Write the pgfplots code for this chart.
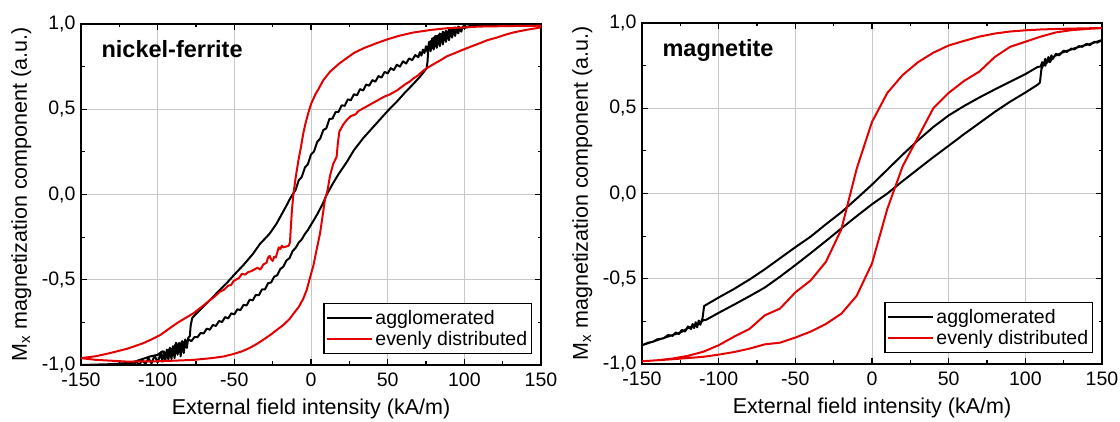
\documentclass[border=0pt]{standalone}
\usepackage{fontspec}
\setmainfont{Liberation Sans}
\usepackage{pgfplots}
\pgfplotsset{compat=1.18}
\definecolor{myred}{RGB}{228,0,0}

\pgfplotsset{
  hyst/.style={
    width=460pt, height=341pt, scale only axis,
    xmin=-150, xmax=150, ymin=-1, ymax=1,
    xtick={-150,-100,...,150},
    xticklabels={-150,-100,-50,0,50,100,150},
    ytick={-1,-0.5,0,0.5,1},
    yticklabels={{-1,0},{-0,5},{0,0},{0,5},{1,0}},
    minor x tick num=1, minor y tick num=1,
    grid=major, grid style={line width=0.8pt, draw=black!22},
    axis line style={line width=1.2pt},
    major tick length=6pt, minor tick length=3.5pt,
    every tick/.style={black, line width=1.1pt},
    tick label style={font=\fontsize{19.5}{23}\selectfont},
    label style={font=\fontsize{21.5}{25}\selectfont},
    xlabel={External field intensity (kA/m)},
    ylabel={M\textsubscript{x} magnetization component (a.u.)},
    xlabel style={at={(axis description cs:0.5,-0.1466)}, anchor=base},
    ylabel style={at={(axis description cs:-0.1174,0.5)}, anchor=base},
    xticklabel style={yshift=-4pt},
    yticklabel style={xshift=-2pt},
    legend style={at={(0.981,0.031)}, anchor=south east, draw=black,
      line width=1.2pt, fill=white, font=\fontsize{19.5}{23}\selectfont,
      inner xsep=2pt, inner ysep=4.5pt,
      nodes={inner xsep=2.5pt, inner ysep=2.5pt}},
    legend cell align=left,
    legend image code/.code={\draw[#1] (0pt,0pt) -- (45pt,0pt);},
    every axis plot/.append style={line width=2pt, line join=round},
  }
}

\begin{document}
\begin{tikzpicture}
\useasboundingbox (0,0) rectangle (1120pt,422pt);

% nickel-ferrite
\begin{axis}[hyst, at={(81pt,57pt)}, anchor=south west]
\addplot[black] coordinates {
(150,0.995) (130,0.995) (115,0.993) (106,0.99) (102,0.985)
(100,0.975) (99,0.985) (98,0.955) (97,0.98) (96,0.945) (95,0.975) (94,0.93) (93,0.97)
(92,0.92) (91,0.965) (90,0.905) (89,0.955) (88,0.895) (87,0.95) (86,0.88) (85,0.94)
(84,0.87) (83,0.935) (82,0.86) (81,0.93) (80,0.85) (79,0.915) (78,0.84) (77,0.895)
(76,0.835) (75,0.87) (74,0.83) (73,0.85) (72,0.815) (71,0.835) (70,0.805)
(68,0.818) (66,0.788) (64,0.798) (62,0.768) (60,0.781) (58,0.75) (56,0.761) (54,0.73)
(52,0.741) (50,0.71) (48,0.719) (46,0.686) (44,0.695) (42,0.662) (40,0.671) (38,0.638)
(36,0.645) (34,0.61) (32,0.618) (30,0.582) (28,0.588) (26,0.553) (24,0.558) (22,0.52)
(20,0.523) (18,0.485) (16,0.483) (14,0.445) (12,0.443) (10,0.388) (8,0.378) (6,0.328)
(4,0.308) (2,0.253) (0,0.235) (-2,0.178) (-4,0.158) (-6,0.103) (-8,0.083) (-10,0.028) (-12,0.0)
(-14,-0.03) (-16,-0.065) (-22.4,-0.17) (-27,-0.23) (-33.3,-0.29) (-38,-0.35) (-44,-0.413)
(-50,-0.47) (-55,-0.52) (-60,-0.565) (-66,-0.62) (-71,-0.665) (-75.7,-0.707) (-77.5,-0.725)
(-78.5,-0.77) (-79,-0.83)
(-80,-0.84) (-81,-0.9) (-82,-0.85) (-83,-0.93) (-84,-0.86) (-85,-0.95) (-86,-0.87)
(-87,-0.94) (-88,-0.88) (-89,-0.96) (-90,-0.89) (-91,-0.965) (-92,-0.9) (-93,-0.97)
(-94,-0.91) (-95,-0.975) (-96,-0.92) (-97,-0.98) (-98,-0.93) (-100,-0.985) (-102,-0.945)
(-104,-0.99) (-106,-0.96) (-108,-0.995) (-110,-0.97) (-112,-1.0) (-114,-0.98) (-116,-1.0)
(-118,-0.985) (-120,-1.0) (-124,-0.99) (-128,-1.0) (-150,-1.0)
(-130,-0.995) (-122,-0.99) (-115,-0.98) (-110,-0.965) (-105,-0.95) (-100,-0.94)
(-97,-0.92) (-94,-0.935) (-92,-0.9) (-90,-0.92) (-88,-0.87) (-86,-0.9) (-84,-0.86)
(-82,-0.88) (-80,-0.85) (-78,-0.86)
(-76,-0.836) (-74,-0.837) (-72,-0.812) (-70,-0.815) (-68,-0.787) (-66,-0.793) (-64,-0.765)
(-62,-0.771) (-60,-0.742) (-58,-0.748) (-56,-0.719) (-54,-0.727) (-52,-0.697) (-50,-0.703)
(-48,-0.673) (-46,-0.678) (-44,-0.647) (-42,-0.651) (-40,-0.617) (-38,-0.621) (-36,-0.589)
(-34,-0.591) (-32,-0.557) (-30,-0.556) (-28,-0.52) (-26,-0.516) (-24,-0.482) (-22,-0.473)
(-20,-0.437) (-18,-0.423) (-16,-0.387) (-14,-0.373) (-12,-0.332) (-10,-0.313) (-8,-0.282)
(-6,-0.263) (-4,-0.232) (-2,-0.208) (0,-0.177) (2,-0.148) (4,-0.117) (6,-0.083) (8,-0.047) (10,-0.005)
(14,0.06) (18,0.12) (23.3,0.19) (28,0.26) (34,0.33) (40,0.39) (45,0.44) (50,0.49)
(56,0.545) (61,0.595) (66.7,0.648) (71,0.69) (75.4,0.74) (76,0.78) (76.5,0.85) (77,0.87)
(78,0.9) (79,0.86) (80,0.92) (81,0.87) (82,0.93) (83,0.885) (84,0.945) (85,0.9) (86,0.955)
(87,0.915) (88,0.96) (89,0.925) (90,0.97) (91,0.935) (92,0.975) (93,0.945) (94,0.98)
(95,0.955) (96,0.985) (98,0.97) (100,0.99) (102,0.98) (105,0.995) (110,0.99) (120,0.995) (150,0.995)
};
\addlegendentry{agglomerated}
\addplot[myred] coordinates {
(150,0.99) (130,0.988) (110,0.985) (100,0.98) (88.5,0.975) (78,0.965) (66.7,0.95) (58,0.932)
(49.8,0.91) (42,0.885) (34.1,0.857) (28,0.83) (23.3,0.80) (18,0.765) (12.4,0.72) (8,0.67)
(5,0.62) (3,0.59) (1.5,0.56) (0,0.53) (-1.7,0.48) (-3.5,0.42) (-5,0.36) (-6.5,0.28)
(-8.2,0.2) (-10,0.1) (-11.5,0.0) (-12.5,-0.1) (-13.2,-0.2) (-13.7,-0.28) (-14.5,-0.3)
(-16,-0.305) (-18,-0.31) (-19,-0.3) (-20,-0.32) (-21,-0.31) (-22,-0.34) (-23,-0.37)
(-24,-0.365) (-25,-0.39) (-26,-0.38) (-27,-0.36) (-28,-0.37) (-29,-0.4) (-31,-0.41)
(-33,-0.44) (-35,-0.43) (-37,-0.44) (-39,-0.45) (-41,-0.455) (-43,-0.47) (-45,-0.465)
(-47,-0.49) (-49,-0.5) (-50.7,-0.51) (-52,-0.53) (-54,-0.535) (-57,-0.56) (-59.4,-0.57)
(-63,-0.6) (-66,-0.62) (-70,-0.65) (-76.7,-0.697) (-82,-0.725) (-87.5,-0.755) (-93,-0.79)
(-98.3,-0.824) (-104,-0.85) (-109.6,-0.873) (-120,-0.905) (-131,-0.93) (-140,-0.948) (-150,-0.96)
(-140,-0.97) (-130,-0.975) (-120,-0.98) (-100,-0.978) (-90,-0.975) (-76.7,-0.97) (-65,-0.96)
(-57,-0.95) (-50.7,-0.936) (-45,-0.92) (-40,-0.9) (-36,-0.88) (-33.3,-0.865) (-30,-0.845)
(-26,-0.82) (-22.4,-0.795) (-18,-0.765) (-14,-0.73) (-11.5,-0.7) (-8,-0.66) (-5,-0.61)
(-2.8,-0.56) (-1,-0.5) (0.5,-0.45) (1.5,-0.42) (3.5,-0.33) (5.9,-0.228) (7.5,-0.13)
(9.1,-0.03) (10.7,0.02) (12.4,0.11) (14.5,0.18) (16.7,0.22) (17.5,0.3) (18.5,0.37)
(19.5,0.385) (21,0.41) (23.3,0.437) (26,0.46) (29,0.47) (31,0.49) (34,0.505) (37,0.52)
(40,0.535) (42,0.545) (45,0.56) (48,0.575) (51,0.585) (54,0.6) (56,0.61) (59,0.63)
(62,0.65) (64,0.66) (66.7,0.68) (70,0.7) (73,0.725) (75.4,0.74) (80,0.765) (84,0.785)
(88.5,0.81) (94,0.83) (99.3,0.85) (105,0.87) (110,0.887) (115,0.905) (121,0.92)
(126,0.935) (131.8,0.95) (140,0.965) (150,0.98)
};
\addlegendentry{evenly distributed}
\node[anchor=base west, font=\bfseries\fontsize{23.5}{27}\selectfont]
  at (rel axis cs:0.037,0.9003) {nickel-ferrite};
\end{axis}

% magnetite
\begin{axis}[hyst, at={(642pt,58pt)}, anchor=south west]
\addplot[black] coordinates {
(150,0.90) (147,0.885) (145,0.89) (142,0.87) (140,0.878) (137,0.86) (135,0.865) (132,0.845)
(130,0.85) (127,0.83) (125,0.838) (122,0.81) (120,0.82) (118,0.79) (117,0.81) (116,0.78)
(115,0.8) (114,0.765) (113,0.79) (112,0.755) (111,0.77) (110,0.745)
(108,0.742) (100,0.70) (90,0.655) (80,0.61) (70,0.563) (60,0.513) (50,0.458) (40,0.39)
(30,0.312) (20,0.228) (10,0.14) (0,0.052) (-10,-0.03) (-20,-0.11) (-30,-0.18) (-40,-0.253)
(-50,-0.315) (-60,-0.38) (-70,-0.445) (-80,-0.505) (-90,-0.56) (-100,-0.61) (-108,-0.652)
(-109.5,-0.66) (-110.5,-0.73) (-112,-0.77) (-113,-0.745) (-114,-0.785) (-115,-0.755)
(-116,-0.79) (-117,-0.765) (-118,-0.795) (-120,-0.78) (-122,-0.81) (-124,-0.8) (-126,-0.825)
(-128,-0.815) (-130,-0.835) (-133,-0.83) (-136,-0.85) (-140,-0.855) (-143,-0.87)
(-146,-0.875) (-150,-0.89)
(-140,-0.86) (-130,-0.83) (-125,-0.815) (-120,-0.79) (-115,-0.77) (-112,-0.76)
(-110.5,-0.745) (-108,-0.74) (-100,-0.70) (-90,-0.652) (-80,-0.603) (-70,-0.552)
(-60,-0.488) (-50,-0.42) (-40,-0.35) (-30,-0.278) (-20,-0.205) (-10,-0.133) (0,-0.063)
(10,0.0) (20,0.073) (30,0.143) (40,0.213) (50,0.28) (60,0.348) (70,0.413) (80,0.478)
(90,0.538) (100,0.592) (108,0.638) (109.5,0.65) (110.5,0.73) (112,0.76) (113,0.75)
(114,0.78) (116,0.77) (118,0.8) (120,0.81) (125,0.83) (130,0.845) (135,0.86) (140,0.872)
(145,0.885) (150,0.90)
};
\addlegendentry{agglomerated}
\addplot[myred] coordinates {
(150,0.970) (140,0.969) (130,0.967) (120,0.965) (110,0.962) (100,0.957) (90,0.950)
(80,0.938) (70,0.920) (60,0.895) (50,0.868) (40,0.826) (30,0.770) (20,0.695) (10,0.590)
(0,0.420) (-10,0.145) (-20,-0.21) (-30,-0.40) (-40,-0.51) (-50,-0.58) (-60,-0.675)
(-70,-0.715) (-80,-0.795) (-90,-0.84) (-100,-0.89) (-110,-0.928) (-120,-0.952)
(-130,-0.968) (-140,-0.978) (-150,-0.984)
(-140,-0.978) (-130,-0.972) (-120,-0.965) (-110,-0.958) (-100,-0.945) (-90,-0.93)
(-80,-0.91) (-70,-0.885) (-60,-0.875) (-50,-0.845) (-40,-0.81) (-30,-0.765) (-20,-0.705)
(-10,-0.60) (0,-0.41) (10,-0.09) (20,0.16) (30,0.33) (40,0.50) (50,0.59) (60,0.66)
(70,0.715) (80,0.80) (90,0.86) (100,0.89) (110,0.92) (120,0.945) (130,0.958) (140,0.965)
(150,0.970)
};
\addlegendentry{evenly distributed}
\node[anchor=base west, font=\bfseries\fontsize{23.5}{27}\selectfont]
  at (rel axis cs:0.037,0.9003) {magnetite};
\end{axis}
\end{tikzpicture}
\end{document}
